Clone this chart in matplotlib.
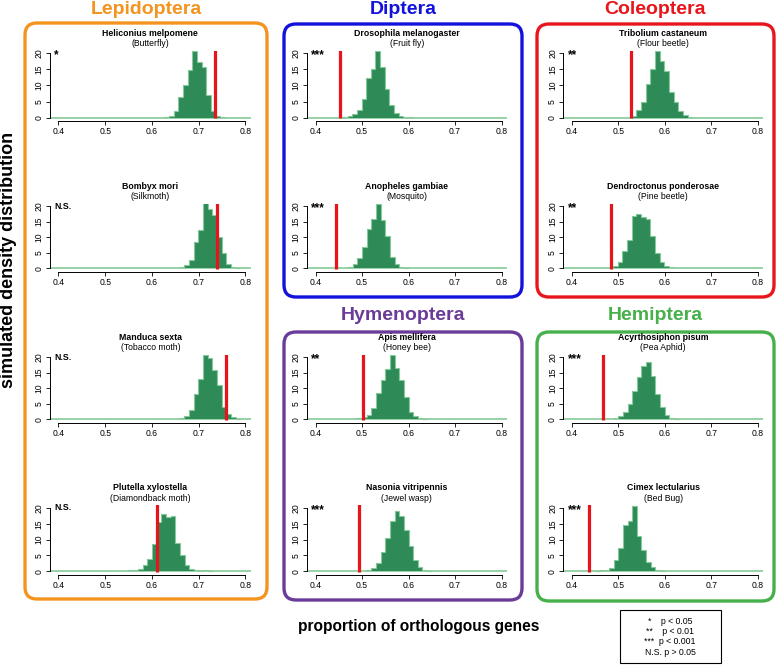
"""Simulated density distributions of orthologous gene proportions, by insect order."""
import matplotlib
matplotlib.use("Agg")
import matplotlib.pyplot as plt
from matplotlib.patches import FancyBboxPatch, Rectangle

plt.rcParams["font.family"] = ["Liberation Sans", "DejaVu Sans"]

# ---------------------------------------------------------------------------
# Data
# ---------------------------------------------------------------------------
BIN = 0.01

species = [
    "Heliconius melpomene", "Bombyx mori", "Manduca sexta", "Plutella xylostella",
    "Drosophila melanogaster", "Anopheles gambiae",
    "Tribolium castaneum", "Dendroctonus ponderosae",
    "Apis mellifera", "Nasonia vitripennis",
    "Acyrthosiphon pisum", "Cimex lectularius",
]
common = [
    "(Butterfly)", "(Silkmoth)", "(Tobacco moth)", "(Diamondback moth)",
    "(Fruit fly)", "(Mosquito)",
    "(Flour beetle)", "(Pine beetle)",
    "(Honey bee)", "(Jewel wasp)",
    "(Pea Aphid)", "(Bed Bug)",
]
signif = ["*", "N.S.", "N.S.", "N.S.", "***", "***", "**", "**", "**", "***", "***", "***"]
observed = [0.734, 0.738, 0.759, 0.610, 0.453, 0.444, 0.527, 0.484, 0.503, 0.493, 0.467, 0.437]
bin_start = [0.626, 0.659, 0.659, 0.550, 0.459, 0.470, 0.529, 0.489, 0.490, 0.510, 0.490, 0.450]
heights = [
    [0.2, 0.5, 2.0, 6.3, 10.2, 14.8, 20.6, 17.3, 15.9, 7.0, 2.0, 0.6, 0.2],
    [0.5, 1.0, 2.7, 8.6, 12.3, 20.9, 19.2, 17.1, 10.0, 4.8, 1.5, 0.5, 0.2],
    [0.5, 1.1, 3.0, 8.0, 12.9, 20.7, 19.8, 15.7, 11.1, 4.0, 1.6, 0.6, 0.2],
    [0.3, 0.3, 0.8, 2.1, 4.0, 8.5, 15.5, 18.2, 17.2, 17.5, 8.9, 5.0, 2.0, 0.8, 0.3, 0.2, 0.4, 0.1],
    [0.3, 0.5, 1.2, 2.5, 5.8, 12.3, 15.0, 20.6, 15.8, 9.0, 4.0, 1.6, 0.6, 0.2, 0.1],
    [0.5, 1.4, 3.2, 7.0, 12.6, 16.0, 20.6, 15.5, 10.5, 3.5, 1.3, 0.5, 0.2],
    [0.5, 2.3, 5.0, 10.5, 15.0, 20.6, 17.5, 14.5, 8.0, 4.8, 2.0, 0.9, 0.3],
    [0.7, 2.0, 5.5, 9.0, 17.0, 17.5, 16.5, 16.0, 10.5, 5.0, 2.0, 0.7, 0.3],
    [0.3, 0.6, 1.5, 3.5, 8.5, 12.5, 16.0, 20.6, 16.5, 12.5, 7.0, 2.5, 1.0, 0.5, 0.2],
    [0.3, 1.0, 2.5, 6.0, 10.5, 16.0, 19.2, 17.5, 13.0, 8.0, 3.5, 1.5, 0.5, 0.2],
    [0.3, 1.0, 2.5, 5.0, 9.0, 13.5, 17.0, 18.5, 14.0, 8.0, 4.0, 1.5, 0.5, 0.2],
    [0.2, 0.3, 0.3, 1.0, 3.5, 7.5, 14.5, 16.0, 20.6, 11.3, 6.8, 2.8, 1.4, 0.5, 0.2],
]

groups = ["Lepidoptera", "Diptera", "Coleoptera", "Hymenoptera", "Hemiptera"]
group_colors = ["#f3941f", "#1212dc", "#e8161c", "#6a3b98", "#46b04a"]

x_ticks = [0.4, 0.5, 0.6, 0.7, 0.8]
x_ticklabels = ["0.4", "0.5", "0.6", "0.7", "0.8"]
y_ticks = [0, 5, 10, 15, 20]
y_ticklabels = ["0", "5", "10", "15", "20"]

legend_lines = ["*    p < 0.05", "**    p < 0.01", "***  p < 0.001", "N.S. p > 0.05"]

# ---------------------------------------------------------------------------
# Layout (pixels, origin top-left)
# ---------------------------------------------------------------------------
W, H = 778, 665
XLIM = (0.382, 0.811)
YLIM = (-1.1, 20.8)
FILL = "#2e8b57"
EDGE = "#86c99a"
RED = "#e8141b"

COL_X = [(58.5, 245.5), (315.5, 501.5), (571.7, 757.8)]          # pixel of 0.4 / 0.8
ROW_Y = [(117.7, 53.3), (268.3, 206.2), (419.3, 357.0), (571.3, 508.0)]  # pixel of 0 / 20
PANEL_CELL = [(0, 0), (0, 1), (0, 2), (0, 3), (1, 0), (1, 1),
              (2, 0), (2, 1), (1, 2), (1, 3), (2, 2), (2, 3)]
BOXES = [(25, 23, 267, 599), (284, 24, 522, 297), (537, 24, 774, 297),
         (284, 332, 522, 600), (537, 332, 774, 601)]
GROUP_TITLE_XY = [(146, 9), (403, 9), (655, 9), (403, 316), (655, 316)]


def panel_rect(col, row):
    x04, x08 = COL_X[col]
    y0, y20 = ROW_Y[row]
    sx = (x08 - x04) / 0.4
    sy = (y0 - y20) / 20
    left = x04 + (XLIM[0] - 0.4) * sx
    right = x04 + (XLIM[1] - 0.4) * sx
    bottom = y0 - YLIM[0] * sy
    top = y0 - YLIM[1] * sy
    return left, right, top, bottom


fig = plt.figure(figsize=(W / 100, H / 100), dpi=100)
fig.patch.set_facecolor("white")

# background axes in pixel units for boxes and free text
bg = fig.add_axes([0, 0, 1, 1], zorder=0)
bg.set_xlim(0, W)
bg.set_ylim(H, 0)
bg.axis("off")

for (x0, y0, x1, y1), col in zip(BOXES, group_colors):
    bg.add_patch(FancyBboxPatch((x0, y0), x1 - x0, y1 - y0,
                                boxstyle="round,pad=0,rounding_size=12",
                                fill=False, edgecolor=col, linewidth=2.4))
for name, col, (tx, ty) in zip(groups, group_colors, GROUP_TITLE_XY):
    bg.text(tx, ty, name, color=col, fontsize=14, fontweight="bold",
            ha="center", va="center")

bg.text(9, 260, "simulated density distribution", rotation=90, fontsize=13,
        fontweight="bold", ha="center", va="center")
bg.text(419, 627, "proportion of orthologous genes", fontsize=11.2,
        fontweight="bold", ha="center", va="center")

# significance legend
bg.add_patch(Rectangle((620, 610), 101, 53, fill=False, edgecolor="black", linewidth=0.8))
for i, line in enumerate(legend_lines):
    bg.text(670, 621.5 + i * 10.2, line, fontsize=6.3, ha="center", va="center")

# ---- histogram panels ----
for i, (col, row) in enumerate(PANEL_CELL):
    left, right, top, bottom = panel_rect(col, row)
    ax = fig.add_axes([left / W, 1 - bottom / H, (right - left) / W, (bottom - top) / H],
                      zorder=1)
    ax.patch.set_alpha(0)
    edges = [bin_start[i] + k * BIN for k in range(len(heights[i]) + 1)]
    ax.plot(XLIM, [0, 0], color=EDGE, linewidth=1.2, zorder=1)
    ax.bar(edges[:-1], heights[i], width=BIN, align="edge", color=FILL,
           linewidth=0, zorder=2)
    ax.stairs(heights[i], edges, baseline=0, color=EDGE, linewidth=0.8, zorder=2.5)
    ax.plot([observed[i], observed[i]], [-0.2, 30], color=RED, linewidth=2.3,
            solid_capstyle="butt", zorder=3)
    star = signif[i] != "N.S."
    ax.text(0.391, 19.3 if star else 20, signif[i], fontsize=8.5 if star else 6.3,
            fontweight="bold", ha="left", va="center")

    ax.set_xlim(*XLIM)
    ax.set_ylim(*YLIM)
    ax.set_xticks(x_ticks)
    ax.set_xticklabels(x_ticklabels)
    ax.set_yticks(y_ticks)
    ax.set_yticklabels(y_ticklabels, rotation=90, va="center")
    ax.tick_params(length=3, width=0.6, pad=1.5, labelsize=6.2)
    for side in ("top", "right"):
        ax.spines[side].set_visible(False)
    ax.spines["left"].set_bounds(0, 20)
    ax.spines["bottom"].set_bounds(0.4, 0.8)
    ax.spines["left"].set_linewidth(0.7)
    ax.spines["bottom"].set_linewidth(0.7)

    # two-line title, centred over the plot region
    y20 = ROW_Y[row][1]
    cx = (left + right) / 2
    bg.text(cx, y20 - 20, species[i], fontsize=6.3, fontweight="bold",
            ha="center", va="center")
    bg.text(cx, y20 - 9.5, common[i], fontsize=6.2, ha="center", va="center")

fig.savefig("out.png", dpi=100)
